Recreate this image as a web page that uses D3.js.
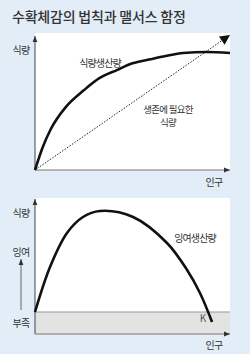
<!DOCTYPE html>
<html><head><meta charset="utf-8">
<script src="https://cdn.jsdelivr.net/npm/d3@7"></script>
<style>
html,body{margin:0;padding:0;background:#e2edf7;}
svg{display:block;}
text{font-family:"Noto Sans CJK KR","Noto Sans",sans-serif;fill:#333;}
</style></head><body>
<svg id="c" width="250" height="354"></svg>
<script>
const title = "수확체감의 법칙과 맬서스 함정";
// top panel: food production vs population
const population1 = [0, 4, 8, 16, 25, 33, 42, 50, 59, 67, 76, 88, 100];
const foodProduction = [0, 17, 30, 47, 59, 68, 74, 79, 82, 84.5, 86.7, 87.4, 86.7];
const foodNeeded = [[0, 0], [100, 100]];
// bottom panel: surplus production vs population
const population2 = [0, 7.7, 16.4, 24.6, 33.3, 50.3, 67.7, 78, 84.6, 90.8];
const surplus = [0, 45, 79, 95, 101, 95, 69, 42, 19, -10];
const labelsTop = {y: "식량", x: "인구", curve: "식량생산량", line1: "생존에 필요한", line2: "식량"};
const labelsBottom = {y1: "식량", y2: "잉여", y3: "부족", x: "인구", curve: "잉여생산량", k: "K"};

const svg = d3.select("#c");
const defs = svg.append("defs");
defs.append("marker").attr("id","ax").attr("viewBox","0 0 10 10").attr("refX",10).attr("refY",5)
  .attr("markerWidth",6).attr("markerHeight",6).attr("markerUnits","userSpaceOnUse").attr("orient","auto")
  .append("path").attr("d","M0,1L10,5L0,9Z").attr("fill","#333");
defs.append("marker").attr("id","big").attr("viewBox","0 0 10 10").attr("refX",10).attr("refY",5)
  .attr("markerWidth",12).attr("markerHeight",10).attr("markerUnits","userSpaceOnUse").attr("orient","auto")
  .append("path").attr("d","M0,0L10,5L0,10Z").attr("fill","#111");

svg.append("text").attr("x",12).attr("y",22).attr("font-size",14).attr("letter-spacing",-0.2)
  .attr("font-weight",500).attr("fill","#333").text(title);

// ---------- top panel ----------
const x1 = d3.scaleLinear().domain([0,100]).range([35,230]);
const y1 = d3.scaleLinear().domain([0,100]).range([170,35]);
svg.append("rect").attr("x",35).attr("y",33).attr("width",195).attr("height",137).attr("fill","#fff");
svg.append("line").attr("x1",35).attr("y1",170).attr("x2",35).attr("y2",36)
  .attr("stroke","#444").attr("stroke-width",1).attr("marker-end","url(#ax)");
svg.append("line").attr("x1",35).attr("y1",170).attr("x2",230).attr("y2",170)
  .attr("stroke","#777").attr("stroke-width",1).attr("marker-end","url(#ax)");

svg.append("path").datum(foodNeeded)
  .attr("d", d3.line().x(d=>x1(d[0])).y(d=>y1(d[1])))
  .attr("fill","none").attr("stroke","#222").attr("stroke-width",1).attr("stroke-dasharray","1.5,1.5")
  .attr("marker-end","url(#big)");
svg.append("path").datum(population1.map((p,i)=>[p,foodProduction[i]]))
  .attr("d", d3.line().x(d=>x1(d[0])).y(d=>y1(d[1])).curve(d3.curveMonotoneX))
  .attr("fill","none").attr("stroke","#111").attr("stroke-width",2.6);

svg.append("text").attr("x",21).attr("y",54).attr("text-anchor","middle").attr("font-size",10).attr("letter-spacing",-0.8).text(labelsTop.y);
svg.append("text").attr("x",214).attr("y",186).attr("text-anchor","middle").attr("font-size",10).attr("letter-spacing",-0.8).text(labelsTop.x);
svg.append("text").attr("x",100).attr("y",67).attr("text-anchor","middle").attr("font-size",10).attr("letter-spacing",-0.9).text(labelsTop.curve);
svg.append("text").attr("x",168).attr("y",113).attr("text-anchor","middle").attr("font-size",9.5).attr("letter-spacing",-0.7).text(labelsTop.line1);
svg.append("text").attr("x",168).attr("y",126).attr("text-anchor","middle").attr("font-size",9.5).attr("letter-spacing",-0.7).text(labelsTop.line2);

// ---------- bottom panel ----------
const x2 = d3.scaleLinear().domain([0,100]).range([35,230]);
const y2 = d3.scaleLinear().domain([-22,112]).range([334,200]);
svg.append("rect").attr("x",35).attr("y",198).attr("width",195).attr("height",136).attr("fill","#fff");
svg.append("rect").attr("x",35).attr("y",y2(0)).attr("width",195).attr("height",y2(-22)-y2(0)).attr("fill","#e3e3e3");
svg.append("line").attr("x1",35).attr("x2",230).attr("y1",y2(0)).attr("y2",y2(0)).attr("stroke","#999").attr("stroke-width",1);
svg.append("line").attr("x1",35).attr("y1",334).attr("x2",35).attr("y2",199)
  .attr("stroke","#444").attr("stroke-width",1).attr("marker-end","url(#ax)");
svg.append("line").attr("x1",35).attr("y1",334).attr("x2",230).attr("y2",334)
  .attr("stroke","#777").attr("stroke-width",1).attr("marker-end","url(#ax)");
svg.append("line").attr("x1",21).attr("y1",310).attr("x2",21).attr("y2",259)
  .attr("stroke","#444").attr("stroke-width",0.8).attr("marker-end","url(#ax)");

svg.append("path").datum(population2.map((p,i)=>[p,surplus[i]]))
  .attr("d", d3.line().x(d=>x2(d[0])).y(d=>y2(d[1])).curve(d3.curveCatmullRom))
  .attr("fill","none").attr("stroke","#111").attr("stroke-width",2.6);

svg.append("text").attr("x",21).attr("y",217).attr("text-anchor","middle").attr("font-size",10).attr("letter-spacing",-0.8).text(labelsBottom.y1);
svg.append("text").attr("x",21).attr("y",256).attr("text-anchor","middle").attr("font-size",10).attr("letter-spacing",-0.8).text(labelsBottom.y2);
svg.append("text").attr("x",21).attr("y",327).attr("text-anchor","middle").attr("font-size",10).attr("letter-spacing",-0.8).text(labelsBottom.y3);
svg.append("text").attr("x",214).attr("y",349).attr("text-anchor","middle").attr("font-size",10).attr("letter-spacing",-0.8).text(labelsBottom.x);
svg.append("text").attr("x",195).attr("y",242).attr("text-anchor","middle").attr("font-size",10).attr("letter-spacing",-0.9).text(labelsBottom.curve);
svg.append("text").attr("x",203).attr("y",322).attr("text-anchor","middle").attr("font-size",10).attr("fill","#555").style("fill","#555").text(labelsBottom.k);
</script></body></html>
